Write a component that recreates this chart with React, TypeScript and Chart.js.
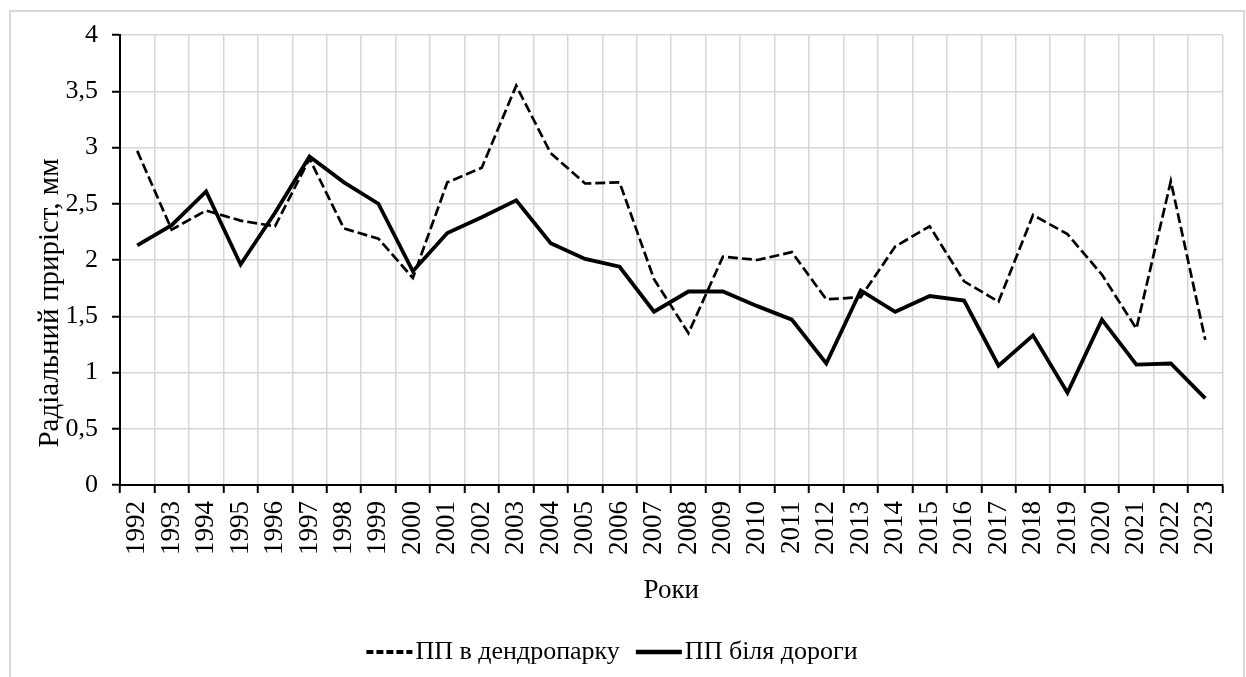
import React, { useEffect, useRef } from 'react';
import { Chart, registerables } from 'chart.js';

Chart.register(...registerables);

const years = [
  '1992', '1993', '1994', '1995', '1996', '1997', '1998', '1999', '2000', '2001', '2002',
  '2003', '2004', '2005', '2006', '2007', '2008', '2009', '2010', '2011', '2012', '2013',
  '2014', '2015', '2016', '2017', '2018', '2019', '2020', '2021', '2022', '2023',
];

const dendroparkValues = [
  2.97, 2.27, 2.44, 2.35, 2.3, 2.9, 2.28, 2.19, 1.84, 2.69, 2.82,
  3.55, 2.95, 2.68, 2.69, 1.83, 1.35, 2.03, 2.0, 2.07, 1.65, 1.67,
  2.12, 2.3, 1.81, 1.63, 2.4, 2.23, 1.87, 1.39, 2.7, 1.29,
];

const roadValues = [
  2.13, 2.31, 2.61, 1.96, 2.42, 2.92, 2.69, 2.5, 1.9, 2.24, 2.38,
  2.53, 2.15, 2.01, 1.94, 1.54, 1.72, 1.72, 1.59, 1.47, 1.08, 1.73,
  1.54, 1.68, 1.64, 1.06, 1.33, 0.82, 1.47, 1.07, 1.08, 0.77,
];

const seriesLabels = ['ПП в дендропарку', 'ПП біля дороги'];
const yTitle = 'Радіальний приріст, мм';
const xTitle = 'Роки';

const FONT = '"Liberation Serif", "Times New Roman", serif';

const customLegend = {
  id: 'customLegend',
  afterDraw(chart: any) {
    const ctx = chart.ctx as CanvasRenderingContext2D;
    const lineLen = 46;
    const lineGap = 3;
    const itemGap = 16;
    const cx = 612;
    const cy = 652;
    ctx.save();
    ctx.font = `26px ${FONT}`;
    const items = chart.data.datasets.map((ds: any) => ({
      ds,
      w: ctx.measureText(ds.label).width,
    }));
    const total =
      items.reduce((s: number, it: any) => s + lineLen + lineGap + it.w, 0) +
      itemGap * (items.length - 1);
    let x = cx - total / 2;
    for (const it of items) {
      const dashed = it.ds.borderDash && it.ds.borderDash.length > 0;
      ctx.beginPath();
      ctx.setLineDash(dashed ? [7, 3] : []);
      ctx.lineWidth = dashed ? 4 : 4.5;
      ctx.strokeStyle = it.ds.borderColor;
      ctx.moveTo(x, cy);
      ctx.lineTo(x + lineLen, cy);
      ctx.stroke();
      ctx.setLineDash([]);
      ctx.fillStyle = '#000';
      ctx.textBaseline = 'middle';
      ctx.textAlign = 'left';
      ctx.fillText(it.ds.label, x + lineLen + lineGap, cy);
      x += lineLen + lineGap + it.w + itemGap;
    }

    // Y axis title, centred over plot area plus category labels (as in the source)
    ctx.translate(50, 303);
    ctx.rotate(-Math.PI / 2);
    ctx.font = `29px ${FONT}`;
    ctx.fillStyle = '#000';
    ctx.textAlign = 'center';
    ctx.textBaseline = 'middle';
    ctx.fillText(yTitle, 0, 0);
    ctx.restore();
  },
};

export default function App() {
  const canvasRef = useRef<HTMLCanvasElement | null>(null);

  useEffect(() => {
    if (!canvasRef.current) return;
    const chart = new Chart(canvasRef.current, {
      type: 'line',
      data: {
        labels: years,
        datasets: [
          {
            label: seriesLabels[0],
            data: dendroparkValues,
            borderColor: '#000',
            backgroundColor: '#000',
            borderWidth: 2.7,
            borderDash: [10, 4],
            pointRadius: 0,
            tension: 0,
            fill: false,
          },
          {
            label: seriesLabels[1],
            data: roadValues,
            borderColor: '#000',
            backgroundColor: '#000',
            borderWidth: 3.8,
            pointRadius: 0,
            tension: 0,
            fill: false,
          },
        ],
      },
      options: {
        animation: false,
        responsive: true,
        maintainAspectRatio: false,
        layout: { padding: { top: 35, left: 0, right: 21, bottom: 70 } },
        plugins: {
          legend: { display: false },
          tooltip: { enabled: false },
        },
        scales: {
          x: {
            type: 'category',
            offset: true,
            grid: {
              offset: true,
              color: '#d6d6d6',
              lineWidth: 1.5,
              tickColor: '#000',
              tickWidth: 2,
              tickLength: 8,
            },
            border: { display: true, color: '#000', width: 2 },
            ticks: {
              autoSkip: false,
              minRotation: 90,
              maxRotation: 90,
              padding: 8,
              color: '#000',
              font: { family: FONT, size: 27 },
            },
            title: {
              display: true,
              text: xTitle,
              color: '#000',
              font: { family: FONT, size: 27 },
              padding: { top: 0, bottom: 0 },
            },
            afterFit(scale: any) {
              scale.height = 122;
            },
          },
          y: {
            min: 0,
            max: 4,
            grid: {
              color: '#d6d6d6',
              lineWidth: 1.5,
              tickColor: '#000',
              tickWidth: 2,
              tickLength: 8,
            },
            border: { display: true, color: '#000', width: 2 },
            ticks: {
              stepSize: 0.5,
              padding: 14,
              color: '#000',
              font: { family: FONT, size: 26 },
              callback: (v: any) => String(v).replace('.', ','),
            },
            title: { display: false, text: yTitle },
            afterFit(scale: any) {
              scale.width = 120;
            },
          },
        },
      },
      plugins: [customLegend],
    });
    return () => chart.destroy();
  }, []);

  return (
    <>
      <div
        style={{
          position: 'absolute',
          left: 9,
          top: 10,
          width: 1236,
          height: 667,
          boxSizing: 'border-box',
          border: '2px solid #d9d9d9',
          borderBottom: 'none',
        }}
      />
      <div style={{ position: 'absolute', left: 0, top: 0, width: 1246, height: 677 }}>
        <canvas ref={canvasRef} />
      </div>
    </>
  );
}
